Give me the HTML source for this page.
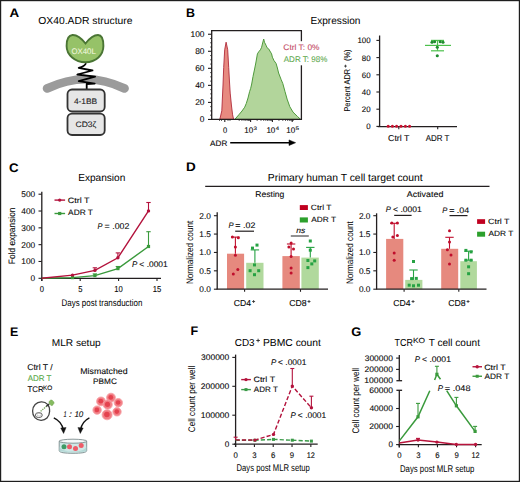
<!DOCTYPE html>
<html><head><meta charset="utf-8"><style>
html,body{margin:0;padding:0;background:#fff;}
svg{display:block;font-family:"Liberation Sans",sans-serif;text-rendering:geometricPrecision;}
</style></head><body>
<svg width="520" height="482" viewBox="0 0 520 482">
<rect x="0.6" y="0.6" width="518.8" height="480.8" fill="#fff" stroke="#1e1e1e" stroke-width="1.2"/>
<text x="9.48" y="16.7" textLength="9.67" lengthAdjust="spacingAndGlyphs" font-size="12.40" fill="#000" font-weight="bold">A</text>
<text x="185.98" y="16.8" textLength="8.98" lengthAdjust="spacingAndGlyphs" font-size="12.40" fill="#000" font-weight="bold">B</text>
<text x="8.95" y="171.8" textLength="9.61" lengthAdjust="spacingAndGlyphs" font-size="12.40" fill="#000" font-weight="bold">C</text>
<text x="186.01" y="171.2" textLength="9.75" lengthAdjust="spacingAndGlyphs" font-size="12.40" fill="#000" font-weight="bold">D</text>
<text x="9.98" y="336.2" textLength="8.31" lengthAdjust="spacingAndGlyphs" font-size="12.40" fill="#000" font-weight="bold">E</text>
<text x="190.47" y="335.4" textLength="7.68" lengthAdjust="spacingAndGlyphs" font-size="12.40" fill="#000" font-weight="bold">F</text>
<text x="351.17" y="336" textLength="10.03" lengthAdjust="spacingAndGlyphs" font-size="12.40" fill="#000" font-weight="bold">G</text>
<text x="38.31" y="23.5" textLength="94.14" lengthAdjust="spacingAndGlyphs" font-size="10.20">OX40.ADR structure</text>
<path d="M47 88.5 Q86 70 124.6 88.5" fill="none" stroke="#9b9b9b" stroke-width="8.6" stroke-linecap="round"/>
<path d="M86 63.3 C85 66 82 67 78.7 67.8 L92.5 70.5 L77.3 74.5 L95.1 76.7 L78.7 81.1 L94.7 83.6 L86.7 84 L86.7 89" fill="none" stroke="#000" stroke-width="1.8" stroke-linejoin="round"/>
<path d="M85.5 43.5 C82 39 77 34.8 72.5 35 C67.5 35.3 66.6 41 66.6 46 C66.6 55 75 62.2 85.5 62.2 C96 62.2 103.4 55 103.4 46 C103.4 40 102 35 98 35 C93 35 89 39 85.5 43.5 Z" fill="#96c268" stroke="#4a7534" stroke-width="1.9"/>
<text x="71.43" y="53.8" textLength="24.33" lengthAdjust="spacingAndGlyphs" font-size="8.10" fill="#eef6dc" stroke="#eef6dc" stroke-width="0.1">OX40L</text>
<rect x="67.50" y="89.50" width="37.20" height="22.00" fill="#e6e6e6" stroke="#333" stroke-width="1.8" rx="4.5"/>
<rect x="67.50" y="113.60" width="37.20" height="21.40" fill="#e6e6e6" stroke="#333" stroke-width="1.8" rx="4.5"/>
<text x="73.92" y="103.9" textLength="23.32" lengthAdjust="spacingAndGlyphs" font-size="7.90" fill="#1a1a1a" stroke="#1a1a1a" stroke-width="0.1">4-1BB</text>
<text x="75.57" y="126.9" textLength="20.78" lengthAdjust="spacingAndGlyphs" font-size="7.90" fill="#1a1a1a" stroke="#1a1a1a" stroke-width="0.1">CD3ζ</text>
<text x="310.47" y="23.5" textLength="49.97" lengthAdjust="spacingAndGlyphs" font-size="10.30">Expression</text>
<path d="M234.8 119.4 L238.8 114.8 L242.0 111.0 L244.7 107.2 L246.3 103.4 L248.0 98.0 L249.6 91.6 L250.7 88.3 L251.7 84.0 L253.0 76.5 L254.4 70.0 L255.8 63.0 L257.4 53.9 L258.7 51.8 L260.4 49.8 L261.6 47.3 L262.4 44.0 L263.7 39.0 L264.5 42.3 L266.2 45.6 L267.0 47.7 L268.7 48.9 L269.9 51.0 L271.6 53.9 L272.4 57.2 L274.0 60.6 L276.1 63.5 L277.4 68.0 L278.6 73.0 L281.2 79.7 L282.8 83.5 L285.0 91.6 L287.1 99.1 L289.8 106.7 L293.0 112.1 L297.4 116.4 L300.6 119.4 Z" fill="#b2d59b" stroke="#4f9a3c" stroke-width="1.0" stroke-linejoin="round"/>
<path d="M219.8 119.4 L221.8 110.8 L223.0 85.0 L223.7 67.4 L224.7 49.7 L226.1 42.2 L227.7 49.7 L228.7 67.4 L229.5 82.0 L230.2 93.1 L231.5 106.0 L232.6 114.8 L233.6 119.4 Z" fill="#e78a80" stroke="#b02a3a" stroke-width="0.9" stroke-linejoin="round"/>
<line x1="211.70" y1="30.70" x2="211.70" y2="119.40" stroke="#231f20" stroke-width="1.3"/>
<line x1="211.00" y1="30.70" x2="302.00" y2="30.70" stroke="#231f20" stroke-width="1.3"/>
<line x1="301.40" y1="30.70" x2="301.40" y2="41.20" stroke="#231f20" stroke-width="1.3"/>
<line x1="301.40" y1="65.30" x2="301.40" y2="120.00" stroke="#231f20" stroke-width="1.3"/>
<line x1="211.00" y1="119.40" x2="302.00" y2="119.40" stroke="#231f20" stroke-width="1.3"/>
<line x1="208.00" y1="34.25" x2="211.70" y2="34.25" stroke="#231f20" stroke-width="1.1"/>
<text x="190.51" y="37.1" textLength="14.02" lengthAdjust="spacingAndGlyphs" font-size="8.40" stroke="#2a2a2a" stroke-width="0.1">100</text>
<line x1="208.00" y1="51.29" x2="211.70" y2="51.29" stroke="#231f20" stroke-width="1.1"/>
<text x="195.18" y="54.14" textLength="9.34" lengthAdjust="spacingAndGlyphs" font-size="8.40" stroke="#2a2a2a" stroke-width="0.1">80</text>
<line x1="208.00" y1="68.33" x2="211.70" y2="68.33" stroke="#231f20" stroke-width="1.1"/>
<text x="195.18" y="71.17999999999999" textLength="9.34" lengthAdjust="spacingAndGlyphs" font-size="8.40" stroke="#2a2a2a" stroke-width="0.1">60</text>
<line x1="208.00" y1="85.37" x2="211.70" y2="85.37" stroke="#231f20" stroke-width="1.1"/>
<text x="195.18" y="88.22" textLength="9.34" lengthAdjust="spacingAndGlyphs" font-size="8.40" stroke="#2a2a2a" stroke-width="0.1">40</text>
<line x1="208.00" y1="102.41" x2="211.70" y2="102.41" stroke="#231f20" stroke-width="1.1"/>
<text x="195.18" y="105.25999999999999" textLength="9.34" lengthAdjust="spacingAndGlyphs" font-size="8.40" stroke="#2a2a2a" stroke-width="0.1">20</text>
<line x1="208.00" y1="119.45" x2="211.70" y2="119.45" stroke="#231f20" stroke-width="1.1"/>
<text x="199.85" y="122.29999999999998" textLength="4.67" lengthAdjust="spacingAndGlyphs" font-size="8.40" stroke="#2a2a2a" stroke-width="0.1">0</text>
<line x1="210.00" y1="38.51" x2="211.70" y2="38.51" stroke="#231f20" stroke-width="0.7"/>
<line x1="210.00" y1="42.77" x2="211.70" y2="42.77" stroke="#231f20" stroke-width="0.7"/>
<line x1="210.00" y1="47.03" x2="211.70" y2="47.03" stroke="#231f20" stroke-width="0.7"/>
<line x1="210.00" y1="55.55" x2="211.70" y2="55.55" stroke="#231f20" stroke-width="0.7"/>
<line x1="210.00" y1="59.81" x2="211.70" y2="59.81" stroke="#231f20" stroke-width="0.7"/>
<line x1="210.00" y1="64.07" x2="211.70" y2="64.07" stroke="#231f20" stroke-width="0.7"/>
<line x1="210.00" y1="72.59" x2="211.70" y2="72.59" stroke="#231f20" stroke-width="0.7"/>
<line x1="210.00" y1="76.85" x2="211.70" y2="76.85" stroke="#231f20" stroke-width="0.7"/>
<line x1="210.00" y1="81.11" x2="211.70" y2="81.11" stroke="#231f20" stroke-width="0.7"/>
<line x1="210.00" y1="89.63" x2="211.70" y2="89.63" stroke="#231f20" stroke-width="0.7"/>
<line x1="210.00" y1="93.89" x2="211.70" y2="93.89" stroke="#231f20" stroke-width="0.7"/>
<line x1="210.00" y1="98.15" x2="211.70" y2="98.15" stroke="#231f20" stroke-width="0.7"/>
<line x1="210.00" y1="106.67" x2="211.70" y2="106.67" stroke="#231f20" stroke-width="0.7"/>
<line x1="210.00" y1="110.93" x2="211.70" y2="110.93" stroke="#231f20" stroke-width="0.7"/>
<line x1="210.00" y1="115.19" x2="211.70" y2="115.19" stroke="#231f20" stroke-width="0.7"/>
<line x1="224.80" y1="119.40" x2="224.80" y2="122.00" stroke="#231f20" stroke-width="1.1"/>
<line x1="250.60" y1="119.40" x2="250.60" y2="122.00" stroke="#231f20" stroke-width="1.1"/>
<line x1="272.40" y1="119.40" x2="272.40" y2="122.00" stroke="#231f20" stroke-width="1.1"/>
<line x1="292.20" y1="119.40" x2="292.20" y2="122.00" stroke="#231f20" stroke-width="1.1"/>
<line x1="239.20" y1="119.40" x2="239.20" y2="121.00" stroke="#231f20" stroke-width="0.7"/>
<line x1="241.92" y1="119.40" x2="241.92" y2="121.00" stroke="#231f20" stroke-width="0.7"/>
<line x1="244.04" y1="119.40" x2="244.04" y2="121.00" stroke="#231f20" stroke-width="0.7"/>
<line x1="245.76" y1="119.40" x2="245.76" y2="121.00" stroke="#231f20" stroke-width="0.7"/>
<line x1="247.22" y1="119.40" x2="247.22" y2="121.00" stroke="#231f20" stroke-width="0.7"/>
<line x1="248.49" y1="119.40" x2="248.49" y2="121.00" stroke="#231f20" stroke-width="0.7"/>
<line x1="249.60" y1="119.40" x2="249.60" y2="121.00" stroke="#231f20" stroke-width="0.7"/>
<line x1="257.16" y1="119.40" x2="257.16" y2="121.00" stroke="#231f20" stroke-width="0.7"/>
<line x1="261.00" y1="119.40" x2="261.00" y2="121.00" stroke="#231f20" stroke-width="0.7"/>
<line x1="263.72" y1="119.40" x2="263.72" y2="121.00" stroke="#231f20" stroke-width="0.7"/>
<line x1="265.84" y1="119.40" x2="265.84" y2="121.00" stroke="#231f20" stroke-width="0.7"/>
<line x1="267.56" y1="119.40" x2="267.56" y2="121.00" stroke="#231f20" stroke-width="0.7"/>
<line x1="269.02" y1="119.40" x2="269.02" y2="121.00" stroke="#231f20" stroke-width="0.7"/>
<line x1="270.29" y1="119.40" x2="270.29" y2="121.00" stroke="#231f20" stroke-width="0.7"/>
<line x1="271.40" y1="119.40" x2="271.40" y2="121.00" stroke="#231f20" stroke-width="0.7"/>
<line x1="278.96" y1="119.40" x2="278.96" y2="121.00" stroke="#231f20" stroke-width="0.7"/>
<line x1="282.80" y1="119.40" x2="282.80" y2="121.00" stroke="#231f20" stroke-width="0.7"/>
<line x1="285.52" y1="119.40" x2="285.52" y2="121.00" stroke="#231f20" stroke-width="0.7"/>
<line x1="287.64" y1="119.40" x2="287.64" y2="121.00" stroke="#231f20" stroke-width="0.7"/>
<line x1="289.36" y1="119.40" x2="289.36" y2="121.00" stroke="#231f20" stroke-width="0.7"/>
<line x1="290.82" y1="119.40" x2="290.82" y2="121.00" stroke="#231f20" stroke-width="0.7"/>
<line x1="292.09" y1="119.40" x2="292.09" y2="121.00" stroke="#231f20" stroke-width="0.7"/>
<line x1="293.20" y1="119.40" x2="293.20" y2="121.00" stroke="#231f20" stroke-width="0.7"/>
<line x1="219.50" y1="119.40" x2="219.50" y2="121.00" stroke="#231f20" stroke-width="0.7"/>
<line x1="221.50" y1="119.40" x2="221.50" y2="121.00" stroke="#231f20" stroke-width="0.7"/>
<line x1="228.00" y1="119.40" x2="228.00" y2="121.00" stroke="#231f20" stroke-width="0.7"/>
<line x1="230.00" y1="119.40" x2="230.00" y2="121.00" stroke="#231f20" stroke-width="0.7"/>
<text x="222.91" y="132.7" textLength="4.18" lengthAdjust="spacingAndGlyphs" font-size="8.20" stroke="#2a2a2a" stroke-width="0.1">0</text>
<text x="244.29" y="132.7" textLength="8.92" lengthAdjust="spacingAndGlyphs" font-size="8.20" stroke="#2a2a2a" stroke-width="0.1">10</text>
<text x="253.46" y="130.4" textLength="3.51" lengthAdjust="spacingAndGlyphs" font-size="5.00" stroke="#2a2a2a" stroke-width="0.1">3</text>
<text x="266.39" y="132.7" textLength="8.92" lengthAdjust="spacingAndGlyphs" font-size="8.20" stroke="#2a2a2a" stroke-width="0.1">10</text>
<text x="275.67" y="130.4" textLength="3.30" lengthAdjust="spacingAndGlyphs" font-size="5.00" stroke="#2a2a2a" stroke-width="0.1">4</text>
<text x="286.29" y="132.7" textLength="8.92" lengthAdjust="spacingAndGlyphs" font-size="8.20" stroke="#2a2a2a" stroke-width="0.1">10</text>
<text x="295.45" y="130.4" textLength="3.51" lengthAdjust="spacingAndGlyphs" font-size="5.00" stroke="#2a2a2a" stroke-width="0.1">5</text>
<text x="210.08" y="145.6" textLength="17.19" lengthAdjust="spacingAndGlyphs" font-size="8.00" stroke="#2a2a2a" stroke-width="0.1">ADR</text>
<line x1="230.20" y1="142.70" x2="291.00" y2="142.70" stroke="#000" stroke-width="1.5"/>
<path d="M289 139.9 L295.6 142.7 L289 145.5 Z" fill="#000" stroke="#000" stroke-width="0.5"/>
<text x="283.38" y="49.8" textLength="36.11" lengthAdjust="spacingAndGlyphs" font-size="8.00" fill="#c44a66" stroke="#c44a66" stroke-width="0.1">Ctrl T: 0%</text>
<text x="283.78" y="61.9" textLength="43.60" lengthAdjust="spacingAndGlyphs" font-size="8.30" fill="#62aa50" stroke="#62aa50" stroke-width="0.1">ADR T: 98%</text>
<line x1="379.60" y1="35.50" x2="379.60" y2="126.70" stroke="#231f20" stroke-width="1.3"/>
<line x1="377.80" y1="126.60" x2="457.00" y2="126.60" stroke="#231f20" stroke-width="1.3"/>
<line x1="376.40" y1="40.40" x2="379.60" y2="40.40" stroke="#231f20" stroke-width="1.1"/>
<text x="357.42" y="43.4" textLength="13.18" lengthAdjust="spacingAndGlyphs" font-size="7.90" stroke="#2a2a2a" stroke-width="0.1">100</text>
<line x1="376.40" y1="57.60" x2="379.60" y2="57.60" stroke="#231f20" stroke-width="1.1"/>
<text x="361.82" y="60.599999999999994" textLength="8.79" lengthAdjust="spacingAndGlyphs" font-size="7.90" stroke="#2a2a2a" stroke-width="0.1">80</text>
<line x1="376.40" y1="74.80" x2="379.60" y2="74.80" stroke="#231f20" stroke-width="1.1"/>
<text x="361.82" y="77.8" textLength="8.79" lengthAdjust="spacingAndGlyphs" font-size="7.90" stroke="#2a2a2a" stroke-width="0.1">60</text>
<line x1="376.40" y1="92.00" x2="379.60" y2="92.00" stroke="#231f20" stroke-width="1.1"/>
<text x="361.82" y="95.0" textLength="8.79" lengthAdjust="spacingAndGlyphs" font-size="7.90" stroke="#2a2a2a" stroke-width="0.1">40</text>
<line x1="376.40" y1="109.20" x2="379.60" y2="109.20" stroke="#231f20" stroke-width="1.1"/>
<text x="361.82" y="112.19999999999999" textLength="8.79" lengthAdjust="spacingAndGlyphs" font-size="7.90" stroke="#2a2a2a" stroke-width="0.1">20</text>
<line x1="376.40" y1="126.40" x2="379.60" y2="126.40" stroke="#231f20" stroke-width="1.1"/>
<text x="366.21" y="129.4" textLength="4.39" lengthAdjust="spacingAndGlyphs" font-size="7.90" stroke="#2a2a2a" stroke-width="0.1">0</text>
<line x1="398.80" y1="126.60" x2="398.80" y2="129.20" stroke="#231f20" stroke-width="1.1"/>
<line x1="437.70" y1="126.60" x2="437.70" y2="129.20" stroke="#231f20" stroke-width="1.1"/>
<text x="388.06" y="140.5" textLength="21.34" lengthAdjust="spacingAndGlyphs" font-size="8.50" stroke="#2a2a2a" stroke-width="0.1">Ctrl T</text>
<text x="425.68" y="140.5" textLength="23.70" lengthAdjust="spacingAndGlyphs" font-size="8.50" stroke="#2a2a2a" stroke-width="0.1">ADR T</text>
<text x="-0.60" y="0" textLength="42.65" lengthAdjust="spacingAndGlyphs" font-size="8.40" stroke="#2a2a2a" stroke-width="0.1" transform="translate(350.3 111) rotate(-90)">Percent ADR</text>
<line x1="344.10" y1="66.10" x2="346.90" y2="66.10" stroke="#2a2a2a" stroke-width="0.8"/>
<line x1="345.50" y1="64.70" x2="345.50" y2="67.50" stroke="#2a2a2a" stroke-width="0.8"/>
<text x="-0.45" y="0" textLength="11.41" lengthAdjust="spacingAndGlyphs" font-size="8.40" stroke="#2a2a2a" stroke-width="0.1" transform="translate(350.3 60.6) rotate(-90)">(%)</text>
<circle cx="388.20" cy="126.30" r="1.55" fill="#c8102e"/>
<circle cx="392.40" cy="126.30" r="1.55" fill="#c8102e"/>
<circle cx="396.60" cy="126.30" r="1.55" fill="#c8102e"/>
<circle cx="401.00" cy="126.30" r="1.55" fill="#c8102e"/>
<circle cx="405.40" cy="126.30" r="1.55" fill="#c8102e"/>
<circle cx="409.60" cy="126.30" r="1.55" fill="#c8102e"/>
<line x1="425.00" y1="45.40" x2="451.00" y2="45.40" stroke="#4cc04c" stroke-width="1.2"/>
<line x1="431.00" y1="40.40" x2="444.00" y2="40.40" stroke="#4cc04c" stroke-width="1.2"/>
<line x1="431.00" y1="50.80" x2="444.00" y2="50.80" stroke="#4cc04c" stroke-width="1.2"/>
<line x1="437.50" y1="40.40" x2="437.50" y2="50.80" stroke="#4cc04c" stroke-width="1.2"/>
<circle cx="432.00" cy="42.30" r="1.55" fill="#1e8a2e"/>
<circle cx="434.60" cy="41.80" r="1.55" fill="#1e8a2e"/>
<circle cx="440.20" cy="41.80" r="1.55" fill="#1e8a2e"/>
<circle cx="443.00" cy="42.30" r="1.55" fill="#1e8a2e"/>
<circle cx="437.30" cy="47.30" r="1.55" fill="#1e8a2e"/>
<circle cx="437.30" cy="55.80" r="1.55" fill="#1e8a2e"/>
<text x="78.17" y="180.5" textLength="47.17" lengthAdjust="spacingAndGlyphs" font-size="10.20">Expansion</text>
<line x1="41.80" y1="191.70" x2="41.80" y2="281.00" stroke="#231f20" stroke-width="1.3"/>
<line x1="41.00" y1="278.30" x2="161.00" y2="278.30" stroke="#231f20" stroke-width="1.3"/>
<line x1="38.50" y1="194.20" x2="41.80" y2="194.20" stroke="#231f20" stroke-width="1.1"/>
<text x="21.37" y="197.2" textLength="13.85" lengthAdjust="spacingAndGlyphs" font-size="8.30" stroke="#2a2a2a" stroke-width="0.1">500</text>
<line x1="38.50" y1="211.02" x2="41.80" y2="211.02" stroke="#231f20" stroke-width="1.1"/>
<text x="21.37" y="214.01999999999998" textLength="13.85" lengthAdjust="spacingAndGlyphs" font-size="8.30" stroke="#2a2a2a" stroke-width="0.1">400</text>
<line x1="38.50" y1="227.84" x2="41.80" y2="227.84" stroke="#231f20" stroke-width="1.1"/>
<text x="21.37" y="230.83999999999997" textLength="13.85" lengthAdjust="spacingAndGlyphs" font-size="8.30" stroke="#2a2a2a" stroke-width="0.1">300</text>
<line x1="38.50" y1="244.66" x2="41.80" y2="244.66" stroke="#231f20" stroke-width="1.1"/>
<text x="21.37" y="247.66" textLength="13.85" lengthAdjust="spacingAndGlyphs" font-size="8.30" stroke="#2a2a2a" stroke-width="0.1">200</text>
<line x1="38.50" y1="261.48" x2="41.80" y2="261.48" stroke="#231f20" stroke-width="1.1"/>
<text x="21.37" y="264.48" textLength="13.85" lengthAdjust="spacingAndGlyphs" font-size="8.30" stroke="#2a2a2a" stroke-width="0.1">100</text>
<line x1="38.50" y1="278.30" x2="41.80" y2="278.30" stroke="#231f20" stroke-width="1.1"/>
<text x="30.60" y="281.29999999999995" textLength="4.62" lengthAdjust="spacingAndGlyphs" font-size="8.30" stroke="#2a2a2a" stroke-width="0.1">0</text>
<line x1="41.80" y1="278.30" x2="41.80" y2="281.00" stroke="#231f20" stroke-width="1.1"/>
<text x="39.77" y="291.6" textLength="4.26" lengthAdjust="spacingAndGlyphs" font-size="8.70" stroke="#2a2a2a" stroke-width="0.1">0</text>
<line x1="80.20" y1="278.30" x2="80.20" y2="281.00" stroke="#231f20" stroke-width="1.1"/>
<text x="78.18" y="291.6" textLength="4.26" lengthAdjust="spacingAndGlyphs" font-size="8.70" stroke="#2a2a2a" stroke-width="0.1">5</text>
<line x1="118.60" y1="278.30" x2="118.60" y2="281.00" stroke="#231f20" stroke-width="1.1"/>
<text x="114.30" y="291.6" textLength="8.52" lengthAdjust="spacingAndGlyphs" font-size="8.70" stroke="#2a2a2a" stroke-width="0.1">10</text>
<line x1="157.00" y1="278.30" x2="157.00" y2="281.00" stroke="#231f20" stroke-width="1.1"/>
<text x="152.71" y="291.6" textLength="8.52" lengthAdjust="spacingAndGlyphs" font-size="8.70" stroke="#2a2a2a" stroke-width="0.1">15</text>
<text x="61.55" y="306.2" textLength="80.86" lengthAdjust="spacingAndGlyphs" font-size="9.60">Days post transduction</text>
<text x="-0.68" y="0" textLength="56.62" lengthAdjust="spacingAndGlyphs" font-size="9.30" stroke="#2a2a2a" stroke-width="0.1" transform="translate(14.9 263.5) rotate(-90)">Fold expansion</text>
<path d="M41.8 278.3 L72.5 277.6 L94.9 275.6 L117.9 268.6 L148.5 246.5" fill="none" stroke="#3a9a3c" stroke-width="1.4"/>
<rect x="70.90" y="276.00" width="3.20" height="3.20" fill="#3a9a3c"/>
<line x1="94.90" y1="275.60" x2="94.90" y2="273.90" stroke="#3a9a3c" stroke-width="1.1"/>
<line x1="92.70" y1="273.90" x2="97.10" y2="273.90" stroke="#3a9a3c" stroke-width="1.1"/>
<rect x="93.30" y="274.00" width="3.20" height="3.20" fill="#3a9a3c"/>
<line x1="117.90" y1="268.60" x2="117.90" y2="266.50" stroke="#3a9a3c" stroke-width="1.1"/>
<line x1="115.70" y1="266.50" x2="120.10" y2="266.50" stroke="#3a9a3c" stroke-width="1.1"/>
<rect x="116.30" y="267.00" width="3.20" height="3.20" fill="#3a9a3c"/>
<line x1="148.50" y1="246.50" x2="148.50" y2="231.70" stroke="#3a9a3c" stroke-width="1.1"/>
<line x1="146.30" y1="231.70" x2="150.70" y2="231.70" stroke="#3a9a3c" stroke-width="1.1"/>
<rect x="146.90" y="244.90" width="3.20" height="3.20" fill="#3a9a3c"/>
<path d="M41.8 278.3 L72.5 275.1 L94.9 270.4 L117.9 257.8 L148.5 210.9" fill="none" stroke="#b3123c" stroke-width="1.4"/>
<circle cx="72.50" cy="275.10" r="1.7" fill="#b3123c"/>
<line x1="94.90" y1="270.40" x2="94.90" y2="267.80" stroke="#b3123c" stroke-width="1.1"/>
<line x1="92.70" y1="267.80" x2="97.10" y2="267.80" stroke="#b3123c" stroke-width="1.1"/>
<circle cx="94.90" cy="270.40" r="1.7" fill="#b3123c"/>
<line x1="117.90" y1="257.80" x2="117.90" y2="252.90" stroke="#b3123c" stroke-width="1.1"/>
<line x1="115.70" y1="252.90" x2="120.10" y2="252.90" stroke="#b3123c" stroke-width="1.1"/>
<circle cx="117.90" cy="257.80" r="1.7" fill="#b3123c"/>
<line x1="148.50" y1="210.90" x2="148.50" y2="202.50" stroke="#b3123c" stroke-width="1.1"/>
<line x1="146.30" y1="202.50" x2="150.70" y2="202.50" stroke="#b3123c" stroke-width="1.1"/>
<circle cx="148.50" cy="210.90" r="1.7" fill="#b3123c"/>
<line x1="54.50" y1="200.10" x2="65.10" y2="200.10" stroke="#b3123c" stroke-width="1.4"/>
<circle cx="59.70" cy="200.10" r="1.7" fill="#b3123c"/>
<text x="67.65" y="202.6" textLength="21.86" lengthAdjust="spacingAndGlyphs" font-size="7.80" stroke="#2a2a2a" stroke-width="0.1">Ctrl T</text>
<line x1="54.50" y1="213.50" x2="65.10" y2="213.50" stroke="#3a9a3c" stroke-width="1.4"/>
<rect x="58.10" y="211.90" width="3.20" height="3.20" fill="#3a9a3c"/>
<text x="68.08" y="215.3" textLength="24.81" lengthAdjust="spacingAndGlyphs" font-size="7.80" stroke="#2a2a2a" stroke-width="0.1">ADR T</text>
<text x="97.48" y="229.4" textLength="4.97" lengthAdjust="spacingAndGlyphs" font-size="8.40" stroke="#2a2a2a" stroke-width="0.1" font-style="italic">P</text>
<text x="104.58" y="229.4" textLength="24.77" lengthAdjust="spacingAndGlyphs" font-size="8.40" stroke="#2a2a2a" stroke-width="0.1">= .002</text>
<text x="132.06" y="266.8" textLength="5.29" lengthAdjust="spacingAndGlyphs" font-size="8.20" stroke="#2a2a2a" stroke-width="0.1" font-style="italic">P</text>
<text x="139.39" y="266.8" textLength="28.32" lengthAdjust="spacingAndGlyphs" font-size="8.20" stroke="#2a2a2a" stroke-width="0.1">< .0001</text>
<text x="267.85" y="180.7" textLength="154.92" lengthAdjust="spacingAndGlyphs" font-size="10.30">Primary human T cell target count</text>
<line x1="205.20" y1="186.40" x2="489.50" y2="186.40" stroke="#231f20" stroke-width="1.4"/>
<text x="255.30" y="197.1" textLength="29.06" lengthAdjust="spacingAndGlyphs" font-size="8.20" stroke="#2a2a2a" stroke-width="0.1">Resting</text>
<text x="406.78" y="197.3" textLength="36.59" lengthAdjust="spacingAndGlyphs" font-size="8.20" stroke="#2a2a2a" stroke-width="0.1">Activated</text>
<rect x="227.00" y="253.70" width="17.10" height="35.50" fill="#e6897e"/>
<rect x="246.20" y="262.80" width="17.30" height="26.40" fill="#b1d99d"/>
<rect x="282.40" y="256.10" width="17.40" height="33.10" fill="#e6897e"/>
<rect x="301.40" y="257.60" width="17.40" height="31.60" fill="#b1d99d"/>
<line x1="217.20" y1="212.20" x2="217.20" y2="289.20" stroke="#231f20" stroke-width="1.3"/>
<line x1="216.60" y1="289.20" x2="328.00" y2="289.20" stroke="#231f20" stroke-width="1.3"/>
<line x1="213.90" y1="215.70" x2="217.20" y2="215.70" stroke="#231f20" stroke-width="1.1"/>
<text x="199.28" y="218.7" textLength="11.54" lengthAdjust="spacingAndGlyphs" font-size="8.30" stroke="#2a2a2a" stroke-width="0.1">2.0</text>
<line x1="213.90" y1="234.07" x2="217.20" y2="234.07" stroke="#231f20" stroke-width="1.1"/>
<text x="199.30" y="237.075" textLength="11.54" lengthAdjust="spacingAndGlyphs" font-size="8.30" stroke="#2a2a2a" stroke-width="0.1">1.5</text>
<line x1="213.90" y1="252.45" x2="217.20" y2="252.45" stroke="#231f20" stroke-width="1.1"/>
<text x="199.28" y="255.45" textLength="11.54" lengthAdjust="spacingAndGlyphs" font-size="8.30" stroke="#2a2a2a" stroke-width="0.1">1.0</text>
<line x1="213.90" y1="270.82" x2="217.20" y2="270.82" stroke="#231f20" stroke-width="1.1"/>
<text x="199.30" y="273.825" textLength="11.54" lengthAdjust="spacingAndGlyphs" font-size="8.30" stroke="#2a2a2a" stroke-width="0.1">0.5</text>
<line x1="213.90" y1="289.20" x2="217.20" y2="289.20" stroke="#231f20" stroke-width="1.1"/>
<text x="199.28" y="292.2" textLength="11.54" lengthAdjust="spacingAndGlyphs" font-size="8.30" stroke="#2a2a2a" stroke-width="0.1">0.0</text>
<line x1="244.60" y1="289.20" x2="244.60" y2="291.80" stroke="#231f20" stroke-width="1.1"/>
<line x1="300.50" y1="289.20" x2="300.50" y2="291.80" stroke="#231f20" stroke-width="1.1"/>
<text x="233.87" y="305.5" textLength="17.29" lengthAdjust="spacingAndGlyphs" font-size="8.70" stroke="#2a2a2a" stroke-width="0.1">CD4</text>
<line x1="252.10" y1="301.50" x2="255.10" y2="301.50" stroke="#2a2a2a" stroke-width="0.8"/>
<line x1="253.60" y1="300.00" x2="253.60" y2="303.00" stroke="#2a2a2a" stroke-width="0.8"/>
<text x="289.26" y="305.5" textLength="17.41" lengthAdjust="spacingAndGlyphs" font-size="8.70" stroke="#2a2a2a" stroke-width="0.1">CD8</text>
<line x1="307.50" y1="301.50" x2="310.50" y2="301.50" stroke="#2a2a2a" stroke-width="0.8"/>
<line x1="309.00" y1="300.00" x2="309.00" y2="303.00" stroke="#2a2a2a" stroke-width="0.8"/>
<text x="-0.67" y="0" textLength="63.23" lengthAdjust="spacingAndGlyphs" font-size="9.50" transform="translate(192.8 283.4) rotate(-90)">Normalized count</text>
<line x1="235.40" y1="237.10" x2="235.40" y2="253.70" stroke="#c00e2c" stroke-width="1.1"/>
<line x1="231.20" y1="237.10" x2="239.60" y2="237.10" stroke="#c00e2c" stroke-width="1.1"/>
<line x1="254.90" y1="249.90" x2="254.90" y2="262.80" stroke="#26a243" stroke-width="1.1"/>
<line x1="250.70" y1="249.90" x2="259.10" y2="249.90" stroke="#26a243" stroke-width="1.1"/>
<line x1="291.10" y1="244.00" x2="291.10" y2="256.10" stroke="#c00e2c" stroke-width="1.1"/>
<line x1="286.90" y1="244.00" x2="295.30" y2="244.00" stroke="#c00e2c" stroke-width="1.1"/>
<line x1="310.30" y1="247.40" x2="310.30" y2="257.60" stroke="#26a243" stroke-width="1.1"/>
<line x1="306.10" y1="247.40" x2="314.50" y2="247.40" stroke="#26a243" stroke-width="1.1"/>
<circle cx="232.40" cy="237.10" r="1.5" fill="#c00e2c"/>
<circle cx="238.30" cy="237.70" r="1.5" fill="#c00e2c"/>
<circle cx="235.40" cy="247.00" r="1.5" fill="#c00e2c"/>
<circle cx="235.40" cy="255.30" r="1.5" fill="#c00e2c"/>
<circle cx="237.80" cy="269.40" r="1.5" fill="#c00e2c"/>
<circle cx="233.30" cy="273.90" r="1.5" fill="#c00e2c"/>
<rect x="255.50" y="243.60" width="3.00" height="3.00" fill="#26a243"/>
<rect x="251.00" y="246.60" width="3.00" height="3.00" fill="#26a243"/>
<rect x="253.00" y="263.40" width="3.00" height="3.00" fill="#26a243"/>
<rect x="248.60" y="269.20" width="3.00" height="3.00" fill="#26a243"/>
<rect x="257.20" y="269.20" width="3.00" height="3.00" fill="#26a243"/>
<rect x="253.00" y="273.20" width="3.00" height="3.00" fill="#26a243"/>
<circle cx="291.10" cy="243.10" r="1.5" fill="#c00e2c"/>
<circle cx="288.90" cy="247.10" r="1.5" fill="#c00e2c"/>
<circle cx="293.50" cy="248.90" r="1.5" fill="#c00e2c"/>
<circle cx="291.10" cy="256.50" r="1.5" fill="#c00e2c"/>
<circle cx="291.10" cy="268.00" r="1.5" fill="#c00e2c"/>
<circle cx="291.10" cy="272.90" r="1.5" fill="#c00e2c"/>
<rect x="308.80" y="239.50" width="3.00" height="3.00" fill="#26a243"/>
<rect x="308.80" y="248.70" width="3.00" height="3.00" fill="#26a243"/>
<rect x="306.40" y="259.00" width="3.00" height="3.00" fill="#26a243"/>
<rect x="313.20" y="259.40" width="3.00" height="3.00" fill="#26a243"/>
<rect x="310.30" y="262.40" width="3.00" height="3.00" fill="#26a243"/>
<rect x="306.40" y="266.10" width="3.00" height="3.00" fill="#26a243"/>
<text x="228.57" y="227.8" textLength="5.07" lengthAdjust="spacingAndGlyphs" font-size="8.00" stroke="#2a2a2a" stroke-width="0.1" font-style="italic">P</text>
<text x="235.37" y="227.8" textLength="19.97" lengthAdjust="spacingAndGlyphs" font-size="8.00" stroke="#2a2a2a" stroke-width="0.1">= .02</text>
<line x1="235.20" y1="231.20" x2="254.00" y2="231.20" stroke="#231f20" stroke-width="1.2"/>
<text x="296.36" y="232.7" textLength="9.01" lengthAdjust="spacingAndGlyphs" font-size="7.90" stroke="#2a2a2a" stroke-width="0.1" font-style="italic">ns</text>
<line x1="290.80" y1="236.00" x2="308.80" y2="236.00" stroke="#555" stroke-width="1.3"/>
<rect x="299.80" y="205.10" width="8.10" height="4.90" fill="#c00020"/>
<text x="310.88" y="209.7" textLength="20.52" lengthAdjust="spacingAndGlyphs" font-size="7.60" stroke="#2a2a2a" stroke-width="0.1">Ctrl T</text>
<rect x="299.80" y="217.40" width="8.10" height="5.10" fill="#2ca02c"/>
<text x="311.28" y="222.2" textLength="24.71" lengthAdjust="spacingAndGlyphs" font-size="7.60" stroke="#2a2a2a" stroke-width="0.1">ADR T</text>
<rect x="386.10" y="238.90" width="17.20" height="50.30" fill="#e6897e"/>
<rect x="405.20" y="279.90" width="17.20" height="9.30" fill="#b1d99d"/>
<rect x="441.20" y="248.80" width="17.00" height="40.40" fill="#e6897e"/>
<rect x="460.30" y="261.20" width="16.60" height="28.00" fill="#b1d99d"/>
<line x1="376.60" y1="213.30" x2="376.60" y2="289.20" stroke="#231f20" stroke-width="1.3"/>
<line x1="376.00" y1="289.20" x2="486.50" y2="289.20" stroke="#231f20" stroke-width="1.3"/>
<line x1="373.30" y1="215.70" x2="376.60" y2="215.70" stroke="#231f20" stroke-width="1.1"/>
<text x="358.88" y="218.7" textLength="11.54" lengthAdjust="spacingAndGlyphs" font-size="8.30" stroke="#2a2a2a" stroke-width="0.1">2.0</text>
<line x1="373.30" y1="234.07" x2="376.60" y2="234.07" stroke="#231f20" stroke-width="1.1"/>
<text x="358.90" y="237.075" textLength="11.54" lengthAdjust="spacingAndGlyphs" font-size="8.30" stroke="#2a2a2a" stroke-width="0.1">1.5</text>
<line x1="373.30" y1="252.45" x2="376.60" y2="252.45" stroke="#231f20" stroke-width="1.1"/>
<text x="358.88" y="255.45" textLength="11.54" lengthAdjust="spacingAndGlyphs" font-size="8.30" stroke="#2a2a2a" stroke-width="0.1">1.0</text>
<line x1="373.30" y1="270.82" x2="376.60" y2="270.82" stroke="#231f20" stroke-width="1.1"/>
<text x="358.90" y="273.825" textLength="11.54" lengthAdjust="spacingAndGlyphs" font-size="8.30" stroke="#2a2a2a" stroke-width="0.1">0.5</text>
<line x1="373.30" y1="289.20" x2="376.60" y2="289.20" stroke="#231f20" stroke-width="1.1"/>
<text x="358.88" y="292.2" textLength="11.54" lengthAdjust="spacingAndGlyphs" font-size="8.30" stroke="#2a2a2a" stroke-width="0.1">0.0</text>
<line x1="404.10" y1="289.20" x2="404.10" y2="291.80" stroke="#231f20" stroke-width="1.1"/>
<line x1="458.80" y1="289.20" x2="458.80" y2="291.80" stroke="#231f20" stroke-width="1.1"/>
<text x="393.32" y="305.5" textLength="17.29" lengthAdjust="spacingAndGlyphs" font-size="8.70" stroke="#2a2a2a" stroke-width="0.1">CD4</text>
<line x1="411.55" y1="301.50" x2="414.55" y2="301.50" stroke="#2a2a2a" stroke-width="0.8"/>
<line x1="413.05" y1="300.00" x2="413.05" y2="303.00" stroke="#2a2a2a" stroke-width="0.8"/>
<text x="448.31" y="305.5" textLength="17.41" lengthAdjust="spacingAndGlyphs" font-size="8.70" stroke="#2a2a2a" stroke-width="0.1">CD8</text>
<line x1="466.55" y1="301.50" x2="469.55" y2="301.50" stroke="#2a2a2a" stroke-width="0.8"/>
<line x1="468.05" y1="300.00" x2="468.05" y2="303.00" stroke="#2a2a2a" stroke-width="0.8"/>
<text x="-0.66" y="0" textLength="62.92" lengthAdjust="spacingAndGlyphs" font-size="9.50" transform="translate(352.8 283.4) rotate(-90)">Normalized count</text>
<line x1="394.20" y1="223.30" x2="394.20" y2="238.90" stroke="#c00e2c" stroke-width="1.1"/>
<line x1="390.00" y1="223.30" x2="398.40" y2="223.30" stroke="#c00e2c" stroke-width="1.1"/>
<line x1="413.50" y1="270.00" x2="413.50" y2="279.90" stroke="#26a243" stroke-width="1.1"/>
<line x1="409.30" y1="270.00" x2="417.70" y2="270.00" stroke="#26a243" stroke-width="1.1"/>
<line x1="449.50" y1="237.30" x2="449.50" y2="248.80" stroke="#c00e2c" stroke-width="1.1"/>
<line x1="445.30" y1="237.30" x2="453.70" y2="237.30" stroke="#c00e2c" stroke-width="1.1"/>
<line x1="468.60" y1="251.20" x2="468.60" y2="260.20" stroke="#26a243" stroke-width="1.1"/>
<line x1="464.40" y1="251.20" x2="472.80" y2="251.20" stroke="#26a243" stroke-width="1.1"/>
<line x1="464.50" y1="260.20" x2="472.70" y2="260.20" stroke="#26a243" stroke-width="1.1"/>
<circle cx="391.80" cy="223.10" r="1.5" fill="#c00e2c"/>
<circle cx="397.40" cy="223.10" r="1.5" fill="#c00e2c"/>
<circle cx="392.80" cy="237.10" r="1.5" fill="#c00e2c"/>
<circle cx="397.40" cy="235.50" r="1.5" fill="#c00e2c"/>
<circle cx="394.20" cy="252.90" r="1.5" fill="#c00e2c"/>
<circle cx="394.20" cy="260.20" r="1.5" fill="#c00e2c"/>
<rect x="412.00" y="260.00" width="3.00" height="3.00" fill="#26a243"/>
<rect x="410.10" y="277.10" width="3.00" height="3.00" fill="#26a243"/>
<rect x="414.80" y="276.90" width="3.00" height="3.00" fill="#26a243"/>
<rect x="407.70" y="283.70" width="3.00" height="3.00" fill="#26a243"/>
<rect x="412.00" y="284.30" width="3.00" height="3.00" fill="#26a243"/>
<rect x="417.00" y="283.70" width="3.00" height="3.00" fill="#26a243"/>
<circle cx="449.50" cy="230.70" r="1.5" fill="#c00e2c"/>
<circle cx="449.50" cy="241.90" r="1.5" fill="#c00e2c"/>
<circle cx="447.40" cy="249.80" r="1.5" fill="#c00e2c"/>
<circle cx="451.00" cy="255.00" r="1.5" fill="#c00e2c"/>
<circle cx="449.50" cy="263.90" r="1.5" fill="#c00e2c"/>
<rect x="464.40" y="248.90" width="3.00" height="3.00" fill="#26a243"/>
<rect x="469.60" y="250.40" width="3.00" height="3.00" fill="#26a243"/>
<rect x="464.40" y="258.70" width="3.00" height="3.00" fill="#26a243"/>
<rect x="469.60" y="258.70" width="3.00" height="3.00" fill="#26a243"/>
<rect x="467.10" y="265.30" width="3.00" height="3.00" fill="#26a243"/>
<rect x="467.10" y="272.20" width="3.00" height="3.00" fill="#26a243"/>
<text x="385.67" y="212.2" textLength="5.07" lengthAdjust="spacingAndGlyphs" font-size="8.00" stroke="#2a2a2a" stroke-width="0.1" font-style="italic">P</text>
<text x="393.08" y="212.2" textLength="28.73" lengthAdjust="spacingAndGlyphs" font-size="8.00" stroke="#2a2a2a" stroke-width="0.1">< .0001</text>
<line x1="394.20" y1="215.40" x2="411.60" y2="215.40" stroke="#231f20" stroke-width="1.2"/>
<text x="442.37" y="212.9" textLength="5.07" lengthAdjust="spacingAndGlyphs" font-size="8.00" stroke="#2a2a2a" stroke-width="0.1" font-style="italic">P</text>
<text x="449.17" y="212.9" textLength="20.09" lengthAdjust="spacingAndGlyphs" font-size="8.00" stroke="#2a2a2a" stroke-width="0.1">= .04</text>
<line x1="449.50" y1="215.60" x2="467.50" y2="215.60" stroke="#231f20" stroke-width="1.2"/>
<rect x="477.10" y="219.20" width="8.00" height="4.70" fill="#c00020"/>
<text x="488.06" y="223.7" textLength="21.44" lengthAdjust="spacingAndGlyphs" font-size="7.60" stroke="#2a2a2a" stroke-width="0.1">Ctrl T</text>
<rect x="477.10" y="231.70" width="8.00" height="5.00" fill="#2ca02c"/>
<text x="488.48" y="236.2" textLength="24.81" lengthAdjust="spacingAndGlyphs" font-size="7.60" stroke="#2a2a2a" stroke-width="0.1">ADR T</text>
<text x="51.77" y="345.6" textLength="48.85" lengthAdjust="spacingAndGlyphs" font-size="9.80">MLR setup</text>
<text x="27.17" y="369.9" textLength="25.63" lengthAdjust="spacingAndGlyphs" font-size="8.40" stroke="#2a2a2a" stroke-width="0.1">Ctrl T /</text>
<text x="27.68" y="380.5" textLength="23.80" lengthAdjust="spacingAndGlyphs" font-size="8.20" fill="#5aaa4a" stroke="#5aaa4a" stroke-width="0.1">ADR T</text>
<text x="27.53" y="391.6" textLength="16.24" lengthAdjust="spacingAndGlyphs" font-size="8.30" stroke="#2a2a2a" stroke-width="0.1">TCR</text>
<text x="42.97" y="389.6" textLength="9.34" lengthAdjust="spacingAndGlyphs" font-size="6.60" stroke="#2a2a2a" stroke-width="0.1">KO</text>
<text x="80.28" y="374" textLength="47.28" lengthAdjust="spacingAndGlyphs" font-size="8.40" stroke="#2a2a2a" stroke-width="0.1">Mismatched</text>
<text x="93.13" y="384" textLength="23.68" lengthAdjust="spacingAndGlyphs" font-size="8.00" stroke="#2a2a2a" stroke-width="0.1">PBMC</text>
<path d="M41.2 401.9 C46.5 401.6 50 405.5 49.6 411.5 C49.3 417 45.8 420.4 41 420.3 C36 420.2 32.5 416.5 32.6 411 C32.7 405.6 36.4 402.1 41.2 401.9 Z" fill="#fff" stroke="#444" stroke-width="1.3"/>
<ellipse cx="38.8" cy="415.1" rx="3.5" ry="2.5" fill="#fff" stroke="#555" stroke-width="0.9"/>
<ellipse cx="39.1" cy="414.7" rx="2.2" ry="1.4" fill="none" stroke="#999" stroke-width="0.5"/>
<line x1="40.60" y1="411.30" x2="47.80" y2="405.20" stroke="#7aa860" stroke-width="1.3" stroke-dasharray="1.4 0.8"/>
<line x1="46.30" y1="406.40" x2="49.20" y2="404.00" stroke="#333" stroke-width="1.4"/>
<path d="M49.5 401 C50.5 399.6 52.6 399.8 52.8 401.2 C54.2 401.3 54.6 403.5 53.2 404.3 C53 405.8 50.8 406 50.2 404.6 C48.8 404.2 48.6 401.8 49.5 401 Z" fill="#86bb60" stroke="#6a9e4c" stroke-width="0.5"/>
<text x="63.56" y="416.5" textLength="3.11" lengthAdjust="spacingAndGlyphs" font-size="8.30" stroke="#2a2a2a" stroke-width="0.1" font-style="italic">1</text>
<text x="68.73" y="416.5" textLength="3.35" lengthAdjust="spacingAndGlyphs" font-size="8.30" stroke="#2a2a2a" stroke-width="0.1" font-style="italic">:</text>
<text x="74.40" y="416.5" textLength="8.97" lengthAdjust="spacingAndGlyphs" font-size="8.30" stroke="#2a2a2a" stroke-width="0.1" font-style="italic">10</text>
<circle cx="111" cy="397.6" r="4.4" fill="#f27e85" stroke="#f6a4a8" stroke-width="0.9"/>
<circle cx="110.8" cy="397.40000000000003" r="2.42" fill="#e4434f"/>
<circle cx="101" cy="401.4" r="4.4" fill="#f27e85" stroke="#f6a4a8" stroke-width="0.9"/>
<circle cx="100.8" cy="401.2" r="2.42" fill="#e4434f"/>
<circle cx="118.3" cy="402.7" r="4.2" fill="#f27e85" stroke="#f6a4a8" stroke-width="0.9"/>
<circle cx="118.1" cy="402.5" r="2.31" fill="#e4434f"/>
<circle cx="107.7" cy="404.6" r="4.6" fill="#f27e85" stroke="#f6a4a8" stroke-width="0.9"/>
<circle cx="107.5" cy="404.40000000000003" r="2.53" fill="#e4434f"/>
<circle cx="97.1" cy="410.1" r="4.2" fill="#f27e85" stroke="#f6a4a8" stroke-width="0.9"/>
<circle cx="96.89999999999999" cy="409.90000000000003" r="2.31" fill="#e4434f"/>
<circle cx="117" cy="411.8" r="4.2" fill="#f27e85" stroke="#f6a4a8" stroke-width="0.9"/>
<circle cx="116.8" cy="411.6" r="2.31" fill="#e4434f"/>
<circle cx="107.1" cy="414.8" r="5.0" fill="#f27e85" stroke="#f6a4a8" stroke-width="0.9"/>
<circle cx="106.89999999999999" cy="414.6" r="2.75" fill="#e4434f"/>
<path d="M53.8 417.8 C58.6 420 62.2 424.3 63.3 429.6" fill="none" stroke="#111" stroke-width="1.4"/>
<path d="M60.7 428.0 L63.6 433.5 L66.1 427.5 Z" fill="#111" stroke="#111" stroke-width="0.4"/>
<path d="M89.4 417.8 C84.8 420 81.6 424.3 80.6 429.6" fill="none" stroke="#111" stroke-width="1.4"/>
<path d="M77.9 427.5 L80.3 433.5 L83.2 428.0 Z" fill="#111" stroke="#111" stroke-width="0.4"/>
<path d="M59.2 441.2 L59.2 450.6 C59.2 452.7 65 453.3 73 453.3 C81 453.3 86.7 452.7 86.7 450.6 L86.7 441.2 Z" fill="#cfe8e6" stroke="#6f7f80" stroke-width="0.8"/>
<path d="M59.6 446 C60 450 66 451.5 73 451.5 C80 451.5 86 450 86.3 446 L86.3 451 C84 452.5 62 452.5 59.6 451 Z" fill="#b3d8d6"/>
<ellipse cx="73" cy="441.2" rx="13.75" ry="2.0" fill="#f4f8f8" stroke="#6f7f80" stroke-width="0.8"/>
<circle cx="69.50" cy="446.80" r="2.5" fill="#ee5c68"/>
<circle cx="75.50" cy="448.40" r="2.5" fill="#ee5c68"/>
<circle cx="81.20" cy="445.60" r="2.5" fill="#ee5c68"/>
<circle cx="64.00" cy="446.80" r="2.5" fill="#3f9a66"/>
<text x="234.80" y="346.4" textLength="19.83" lengthAdjust="spacingAndGlyphs" font-size="10.20">CD3</text>
<line x1="256.30" y1="340.50" x2="259.90" y2="340.50" stroke="#2a2a2a" stroke-width="0.9"/>
<line x1="258.10" y1="338.70" x2="258.10" y2="342.30" stroke="#2a2a2a" stroke-width="0.9"/>
<text x="262.95" y="346.4" textLength="58.02" lengthAdjust="spacingAndGlyphs" font-size="10.20">PBMC count</text>
<line x1="235.60" y1="354.60" x2="235.60" y2="447.00" stroke="#231f20" stroke-width="1.3"/>
<line x1="234.00" y1="444.20" x2="317.70" y2="444.20" stroke="#231f20" stroke-width="1.3"/>
<line x1="232.30" y1="357.40" x2="235.60" y2="357.40" stroke="#231f20" stroke-width="1.1"/>
<text x="200.98" y="360.29999999999995" textLength="28.35" lengthAdjust="spacingAndGlyphs" font-size="8.20" stroke="#2a2a2a" stroke-width="0.1">300000</text>
<line x1="232.30" y1="386.30" x2="235.60" y2="386.30" stroke="#231f20" stroke-width="1.1"/>
<text x="200.87" y="389.2" textLength="28.45" lengthAdjust="spacingAndGlyphs" font-size="8.20" stroke="#2a2a2a" stroke-width="0.1">200000</text>
<line x1="232.30" y1="415.20" x2="235.60" y2="415.20" stroke="#231f20" stroke-width="1.1"/>
<text x="200.65" y="418.09999999999997" textLength="28.68" lengthAdjust="spacingAndGlyphs" font-size="8.20" stroke="#2a2a2a" stroke-width="0.1">100000</text>
<line x1="232.30" y1="444.20" x2="235.60" y2="444.20" stroke="#231f20" stroke-width="1.1"/>
<text x="224.75" y="447.09999999999997" textLength="4.56" lengthAdjust="spacingAndGlyphs" font-size="8.20" stroke="#2a2a2a" stroke-width="0.1">0</text>
<line x1="235.60" y1="444.20" x2="235.60" y2="447.00" stroke="#231f20" stroke-width="1.1"/>
<text x="233.43" y="457.7" textLength="4.33" lengthAdjust="spacingAndGlyphs" font-size="8.20" stroke="#2a2a2a" stroke-width="0.1">0</text>
<line x1="254.41" y1="444.20" x2="254.41" y2="447.00" stroke="#231f20" stroke-width="1.1"/>
<text x="252.26" y="457.7" textLength="4.33" lengthAdjust="spacingAndGlyphs" font-size="8.20" stroke="#2a2a2a" stroke-width="0.1">3</text>
<line x1="273.22" y1="444.20" x2="273.22" y2="447.00" stroke="#231f20" stroke-width="1.1"/>
<text x="271.03" y="457.7" textLength="4.33" lengthAdjust="spacingAndGlyphs" font-size="8.20" stroke="#2a2a2a" stroke-width="0.1">6</text>
<line x1="292.03" y1="444.20" x2="292.03" y2="447.00" stroke="#231f20" stroke-width="1.1"/>
<text x="289.87" y="457.7" textLength="4.33" lengthAdjust="spacingAndGlyphs" font-size="8.20" stroke="#2a2a2a" stroke-width="0.1">9</text>
<line x1="310.84" y1="444.20" x2="310.84" y2="447.00" stroke="#231f20" stroke-width="1.1"/>
<text x="306.64" y="457.7" textLength="8.21" lengthAdjust="spacingAndGlyphs" font-size="8.20" stroke="#2a2a2a" stroke-width="0.1">12</text>
<text x="236.57" y="471.4" textLength="73.25" lengthAdjust="spacingAndGlyphs" font-size="9.80">Days post MLR setup</text>
<text x="-0.41" y="0" textLength="66.45" lengthAdjust="spacingAndGlyphs" font-size="9.60" transform="translate(194.9 431.8) rotate(-90)">Cell count per well</text>
<path d="M235.6 440.3 L254.9 440.3 L273.5 439.4 L292.3 440.2 L311.4 441.1" fill="none" stroke="#3a9a48" stroke-width="1.4" stroke-dasharray="4.2 2.1"/>
<path d="M235.6 439.9 L254.9 440.1 L273.5 434.4 L292.3 386.1 L311.4 407.8" fill="none" stroke="#b3123c" stroke-width="1.4" stroke-dasharray="4.2 2.1"/>
<rect x="253.40" y="438.80" width="3.00" height="3.00" fill="#3a9a48"/>
<rect x="272.00" y="437.90" width="3.00" height="3.00" fill="#3a9a48"/>
<rect x="290.80" y="438.70" width="3.00" height="3.00" fill="#3a9a48"/>
<rect x="309.90" y="439.60" width="3.00" height="3.00" fill="#3a9a48"/>
<circle cx="254.90" cy="440.10" r="1.7" fill="#b3123c"/>
<circle cx="273.50" cy="434.40" r="1.7" fill="#b3123c"/>
<circle cx="292.30" cy="386.10" r="1.7" fill="#b3123c"/>
<circle cx="311.40" cy="407.80" r="1.7" fill="#b3123c"/>
<line x1="292.30" y1="386.10" x2="292.30" y2="368.50" stroke="#b3123c" stroke-width="1.1"/>
<line x1="290.30" y1="368.50" x2="294.30" y2="368.50" stroke="#b3123c" stroke-width="1.1"/>
<line x1="311.40" y1="407.80" x2="311.40" y2="396.20" stroke="#b3123c" stroke-width="1.1"/>
<line x1="309.40" y1="396.20" x2="313.40" y2="396.20" stroke="#b3123c" stroke-width="1.1"/>
<line x1="235.60" y1="439.90" x2="235.60" y2="437.20" stroke="#b3123c" stroke-width="1.1"/>
<line x1="233.60" y1="437.20" x2="237.60" y2="437.20" stroke="#b3123c" stroke-width="1.1"/>
<line x1="241.20" y1="379.60" x2="250.90" y2="379.60" stroke="#b3123c" stroke-width="1.4"/>
<circle cx="246.00" cy="379.60" r="1.7" fill="#b3123c"/>
<text x="253.45" y="382" textLength="21.65" lengthAdjust="spacingAndGlyphs" font-size="7.80" stroke="#2a2a2a" stroke-width="0.1">Ctrl T</text>
<line x1="241.20" y1="389.60" x2="250.90" y2="389.60" stroke="#3a9a48" stroke-width="1.4"/>
<rect x="244.50" y="388.10" width="3.00" height="3.00" fill="#3a9a48"/>
<text x="253.88" y="391.9" textLength="24.00" lengthAdjust="spacingAndGlyphs" font-size="7.80" stroke="#2a2a2a" stroke-width="0.1">ADR T</text>
<text x="270.96" y="364.5" textLength="5.29" lengthAdjust="spacingAndGlyphs" font-size="8.30" stroke="#2a2a2a" stroke-width="0.1" font-style="italic">P</text>
<text x="278.09" y="364.5" textLength="28.32" lengthAdjust="spacingAndGlyphs" font-size="8.30" stroke="#2a2a2a" stroke-width="0.1">< .0001</text>
<text x="290.46" y="418" textLength="5.29" lengthAdjust="spacingAndGlyphs" font-size="8.30" stroke="#2a2a2a" stroke-width="0.1" font-style="italic">P</text>
<text x="297.89" y="418" textLength="28.32" lengthAdjust="spacingAndGlyphs" font-size="8.30" stroke="#2a2a2a" stroke-width="0.1">< .0001</text>
<text x="394.60" y="346.4" textLength="18.41" lengthAdjust="spacingAndGlyphs" font-size="10.20">TCR</text>
<text x="413.01" y="342.9" textLength="12.09" lengthAdjust="spacingAndGlyphs" font-size="7.40" stroke="#2a2a2a" stroke-width="0.1">KO</text>
<text x="428.68" y="346.4" textLength="51.29" lengthAdjust="spacingAndGlyphs" font-size="10.20">T cell count</text>
<line x1="399.30" y1="355.00" x2="399.30" y2="380.70" stroke="#231f20" stroke-width="1.3"/>
<line x1="396.40" y1="380.70" x2="402.10" y2="380.70" stroke="#231f20" stroke-width="1.3"/>
<line x1="399.30" y1="390.30" x2="399.30" y2="447.50" stroke="#231f20" stroke-width="1.3"/>
<line x1="396.40" y1="390.30" x2="402.10" y2="390.30" stroke="#231f20" stroke-width="1.3"/>
<line x1="397.80" y1="444.60" x2="481.70" y2="444.60" stroke="#231f20" stroke-width="1.3"/>
<line x1="396.10" y1="358.10" x2="399.30" y2="358.10" stroke="#231f20" stroke-width="1.1"/>
<text x="364.68" y="360.70000000000005" textLength="28.24" lengthAdjust="spacingAndGlyphs" font-size="8.00" stroke="#2a2a2a" stroke-width="0.1">300000</text>
<line x1="396.10" y1="369.40" x2="399.30" y2="369.40" stroke="#231f20" stroke-width="1.1"/>
<text x="364.58" y="372.0" textLength="28.35" lengthAdjust="spacingAndGlyphs" font-size="8.00" stroke="#2a2a2a" stroke-width="0.1">200000</text>
<text x="364.35" y="383.3" textLength="28.58" lengthAdjust="spacingAndGlyphs" font-size="8.00" stroke="#2a2a2a" stroke-width="0.1">100000</text>
<text x="369.17" y="392.90000000000003" textLength="23.75" lengthAdjust="spacingAndGlyphs" font-size="8.00" stroke="#2a2a2a" stroke-width="0.1">60000</text>
<line x1="396.10" y1="408.50" x2="399.30" y2="408.50" stroke="#231f20" stroke-width="1.1"/>
<text x="369.41" y="411.1" textLength="23.51" lengthAdjust="spacingAndGlyphs" font-size="8.00" stroke="#2a2a2a" stroke-width="0.1">40000</text>
<line x1="396.10" y1="426.50" x2="399.30" y2="426.50" stroke="#231f20" stroke-width="1.1"/>
<text x="369.17" y="429.1" textLength="23.75" lengthAdjust="spacingAndGlyphs" font-size="8.00" stroke="#2a2a2a" stroke-width="0.1">20000</text>
<line x1="396.10" y1="444.60" x2="399.30" y2="444.60" stroke="#231f20" stroke-width="1.1"/>
<text x="388.46" y="447.20000000000005" textLength="4.45" lengthAdjust="spacingAndGlyphs" font-size="8.00" stroke="#2a2a2a" stroke-width="0.1">0</text>
<line x1="399.30" y1="444.60" x2="399.30" y2="447.30" stroke="#231f20" stroke-width="1.1"/>
<text x="397.13" y="458.0" textLength="4.33" lengthAdjust="spacingAndGlyphs" font-size="8.20" stroke="#2a2a2a" stroke-width="0.1">0</text>
<line x1="418.38" y1="444.60" x2="418.38" y2="447.30" stroke="#231f20" stroke-width="1.1"/>
<text x="416.23" y="458.0" textLength="4.33" lengthAdjust="spacingAndGlyphs" font-size="8.20" stroke="#2a2a2a" stroke-width="0.1">3</text>
<line x1="437.46" y1="444.60" x2="437.46" y2="447.30" stroke="#231f20" stroke-width="1.1"/>
<text x="435.27" y="458.0" textLength="4.33" lengthAdjust="spacingAndGlyphs" font-size="8.20" stroke="#2a2a2a" stroke-width="0.1">6</text>
<line x1="456.54" y1="444.60" x2="456.54" y2="447.30" stroke="#231f20" stroke-width="1.1"/>
<text x="454.38" y="458.0" textLength="4.33" lengthAdjust="spacingAndGlyphs" font-size="8.20" stroke="#2a2a2a" stroke-width="0.1">9</text>
<line x1="475.62" y1="444.60" x2="475.62" y2="447.30" stroke="#231f20" stroke-width="1.1"/>
<text x="471.42" y="458.0" textLength="8.21" lengthAdjust="spacingAndGlyphs" font-size="8.20" stroke="#2a2a2a" stroke-width="0.1">12</text>
<text x="399.96" y="471.6" textLength="74.36" lengthAdjust="spacingAndGlyphs" font-size="9.80">Days post MLR setup</text>
<text x="-0.40" y="0" textLength="65.64" lengthAdjust="spacingAndGlyphs" font-size="9.60" transform="translate(358.9 433.2) rotate(-90)">Cell count per well</text>
<path d="M399.6 440.6 L418 416.8 L429.8 390.7" fill="none" stroke="#3a9a3c" stroke-width="1.5"/>
<path d="M434.6 380 L436.9 374.3 L440.5 379.3" fill="none" stroke="#3a9a3c" stroke-width="1.5"/>
<path d="M446.7 390.7 L456.4 405.8 L475.1 431.4" fill="none" stroke="#3a9a3c" stroke-width="1.5"/>
<line x1="418.00" y1="416.80" x2="418.00" y2="403.40" stroke="#3a9a3c" stroke-width="1.1"/>
<line x1="416.00" y1="403.40" x2="420.00" y2="403.40" stroke="#3a9a3c" stroke-width="1.1"/>
<rect x="416.40" y="415.20" width="3.20" height="3.20" fill="#3a9a3c"/>
<line x1="456.40" y1="405.80" x2="456.40" y2="397.40" stroke="#3a9a3c" stroke-width="1.1"/>
<line x1="454.40" y1="397.40" x2="458.40" y2="397.40" stroke="#3a9a3c" stroke-width="1.1"/>
<rect x="454.80" y="404.20" width="3.20" height="3.20" fill="#3a9a3c"/>
<line x1="475.10" y1="431.40" x2="475.10" y2="426.40" stroke="#3a9a3c" stroke-width="1.1"/>
<line x1="473.10" y1="426.40" x2="477.10" y2="426.40" stroke="#3a9a3c" stroke-width="1.1"/>
<rect x="473.50" y="429.80" width="3.20" height="3.20" fill="#3a9a3c"/>
<line x1="436.90" y1="374.30" x2="436.90" y2="366.30" stroke="#3a9a3c" stroke-width="1.1"/>
<line x1="434.90" y1="366.30" x2="438.90" y2="366.30" stroke="#3a9a3c" stroke-width="1.1"/>
<rect x="435.30" y="372.70" width="3.20" height="3.20" fill="#3a9a3c"/>
<path d="M399.3 443.1 L418.0 440.0 L436.9 442.1 L456.3 444.4 L475.6 444.4" fill="none" stroke="#b8143c" stroke-width="1.5"/>
<circle cx="418.00" cy="440.00" r="1.7" fill="#b8143c"/>
<circle cx="436.90" cy="442.10" r="1.7" fill="#b8143c"/>
<circle cx="456.30" cy="444.40" r="1.7" fill="#b8143c"/>
<circle cx="475.60" cy="444.40" r="1.7" fill="#b8143c"/>
<line x1="418.00" y1="440.00" x2="418.00" y2="438.40" stroke="#b8143c" stroke-width="1.1"/>
<line x1="416.00" y1="438.40" x2="420.00" y2="438.40" stroke="#b8143c" stroke-width="1.1"/>
<line x1="472.50" y1="366.75" x2="482.00" y2="366.75" stroke="#b8143c" stroke-width="1.4"/>
<circle cx="477.20" cy="366.75" r="1.7" fill="#b8143c"/>
<text x="484.16" y="369.6" textLength="21.55" lengthAdjust="spacingAndGlyphs" font-size="7.80" stroke="#2a2a2a" stroke-width="0.1">Ctrl T</text>
<line x1="472.50" y1="376.25" x2="482.00" y2="376.25" stroke="#3a9a3c" stroke-width="1.4"/>
<rect x="475.70" y="374.75" width="3.00" height="3.00" fill="#3a9a3c"/>
<text x="484.58" y="379.1" textLength="24.61" lengthAdjust="spacingAndGlyphs" font-size="7.80" stroke="#2a2a2a" stroke-width="0.1">ADR T</text>
<text x="414.76" y="362.4" textLength="5.29" lengthAdjust="spacingAndGlyphs" font-size="8.20" stroke="#2a2a2a" stroke-width="0.1" font-style="italic">P</text>
<text x="422.08" y="362.4" textLength="28.83" lengthAdjust="spacingAndGlyphs" font-size="8.20" stroke="#2a2a2a" stroke-width="0.1">< .0001</text>
<text x="437.86" y="390.6" textLength="5.29" lengthAdjust="spacingAndGlyphs" font-size="8.20" stroke="#2a2a2a" stroke-width="0.1" font-style="italic">P</text>
<text x="444.86" y="390.6" textLength="25.63" lengthAdjust="spacingAndGlyphs" font-size="8.20" stroke="#2a2a2a" stroke-width="0.1">= .048</text>
</svg></body></html>
